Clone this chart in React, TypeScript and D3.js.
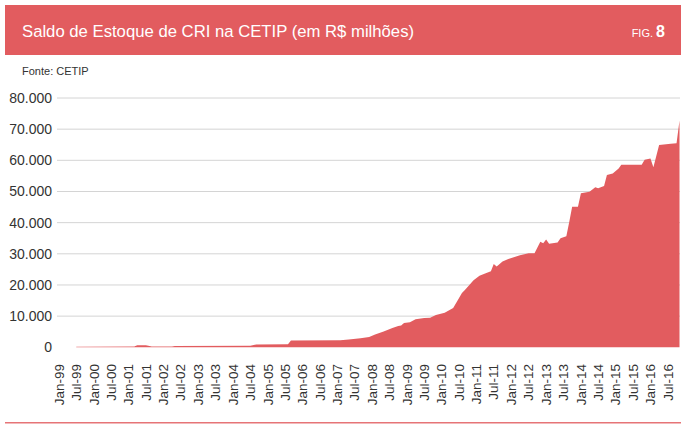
import React, { useRef, useEffect } from "react";
import * as d3 from "d3";

// estoque de CRI (R$ milhões)
const months = [
  "1999-07", "2001-03", "2001-04", "2001-07", "2001-09", "2002-04", "2002-05",
  "2004-07", "2004-09", "2005-08", "2005-09", "2007-02", "2007-05", "2007-09",
  "2007-12", "2008-02", "2008-05", "2008-08", "2008-10", "2008-11", "2008-12",
  "2009-02", "2009-04", "2009-07", "2009-09", "2009-11", "2010-02", "2010-05",
  "2010-06", "2010-08", "2010-09", "2010-12", "2011-02", "2011-04", "2011-06",
  "2011-07", "2011-08", "2011-10", "2011-12", "2012-04", "2012-07", "2012-09",
  "2012-11", "2012-12", "2013-01", "2013-02", "2013-05", "2013-06", "2013-08",
  "2013-09", "2013-10", "2013-12", "2014-01", "2014-04", "2014-06", "2014-07",
  "2014-09", "2014-10", "2014-12", "2015-02", "2015-03", "2015-10", "2015-11",
  "2016-01", "2016-02", "2016-04", "2016-08", "2016-10", "2016-11"
];
const stock = [
  200, 250, 650, 650, 250, 250, 450,
  500, 900, 1000, 2200, 2300, 2500, 2900,
  3300, 4100, 5100, 6200, 6800, 7000, 7800,
  8000, 9000, 9400, 9500, 10400, 11100, 12600,
  14200, 17400, 18400, 21500, 23000, 23700, 24400,
  26700, 25900, 27500, 28300, 29500, 30200, 30200,
  33900, 33400, 34600, 33200, 33600, 35000, 35600,
  40300, 45100, 45100, 49400, 49900, 51400, 51000,
  51800, 55300, 55800, 57400, 58600, 58600, 60200,
  60600, 57800, 64900, 65300, 65500, 72800
];
const yTicks = [10000, 20000, 30000, 40000, 50000, 60000, 70000, 80000];
const yLabels = [0, ...yTicks];
const tickLabels = [
  "Jan-99", "Jul-99", "Jan-00", "Jul-00", "Jan-01", "Jul-01", "Jan-02", "Jul-02",
  "Jan-03", "Jul-03", "Jan-04", "Jul-04", "Jan-05", "Jul-05", "Jan-06", "Jul-06",
  "Jan-07", "Jul-07", "Jan-08", "Jul-08", "Jan-09", "Jul-09", "Jan-10", "Jul-10",
  "Jan-11", "Jul-11", "Jan-12", "Jul-12", "Jan-13", "Jul-13", "Jan-14", "Jul-14",
  "Jan-15", "Jul-15", "Jan-16", "Jul-16"
];

const RED = "#e25c5f";
const FONT = "'Liberation Sans', Arial, sans-serif";

const App = () => {
  const svgRef = useRef(null);

  useEffect(() => {
    const svg = d3.select(svgRef.current);
    svg.selectAll("*").remove();

    const width = 686;
    const height = 428;
    const plot = { left: 57, right: 680, top: 98, bottom: 347.3 };

    const parseMonth = d3.timeParse("%Y-%m");
    const parseTick = d3.timeParse("%b-%y");
    const data = months.map((m, i) => ({ date: parseMonth(m), value: stock[i] }));

    const x = d3.scaleTime()
      .domain([new Date(1999, 0, 1), new Date(2016, 10, 1)])
      .range([59, 679.5]);
    const y = d3.scaleLinear().domain([0, 80000]).range([plot.bottom, plot.top]);

    const fmt = d3.formatLocale({ decimal: ",", thousands: ".", grouping: [3], currency: ["R$", ""] }).format(",");

    svg.attr("width", width).attr("height", height)
      .style("font-family", FONT);

    // header
    svg.append("rect")
      .attr("x", 5).attr("y", 5).attr("width", 676).attr("height", 50)
      .attr("fill", RED);
    svg.append("text")
      .attr("x", 22).attr("y", 37)
      .attr("fill", "#fff")
      .style("font-size", "16.7px")
      .text("Saldo de Estoque de CRI na CETIP (em R$ milhões)");
    const fig = svg.append("text")
      .attr("x", 665).attr("y", 37)
      .attr("text-anchor", "end")
      .attr("fill", "#fff");
    fig.append("tspan").style("font-size", "11px").text("FIG. ");
    fig.append("tspan").style("font-size", "16px").style("font-weight", "bold").text("8");

    svg.append("text")
      .attr("x", 22).attr("y", 75)
      .attr("fill", "#333")
      .style("font-size", "11px")
      .text("Fonte: CETIP");

    // grid
    svg.append("g")
      .selectAll("line")
      .data(yTicks)
      .enter()
      .append("line")
      .attr("x1", plot.left).attr("x2", plot.right)
      .attr("y1", d => y(d)).attr("y2", d => y(d))
      .attr("stroke", "#d4d4d4")
      .attr("stroke-width", 1);

    svg.append("g")
      .selectAll("text")
      .data(yLabels)
      .enter()
      .append("text")
      .attr("x", 52)
      .attr("y", d => y(d))
      .attr("dy", "0.35em")
      .attr("text-anchor", "end")
      .attr("fill", "#333")
      .style("font-size", "14px")
      .text(d => fmt(d));

    // area
    const area = d3.area()
      .x(d => x(d.date))
      .y0(y(0))
      .y1(d => y(d.value));

    svg.append("path")
      .datum(data)
      .attr("d", area)
      .attr("fill", RED);

    // x labels
    svg.append("g")
      .selectAll("text")
      .data(tickLabels)
      .enter()
      .append("text")
      .attr("transform", d => `translate(${x(parseTick(d))},364) rotate(-90)`)
      .attr("dy", "0.35em")
      .attr("text-anchor", "end")
      .attr("fill", "#333")
      .style("font-size", "13.5px")
      .text(d => d);

    // bottom rule
    svg.append("rect")
      .attr("x", 5).attr("y", 422)
      .attr("width", 676).attr("height", 1.5)
      .attr("fill", RED)
      .attr("opacity", 0.85);
  }, []);

  return (
    <div style={{ position: "absolute", left: 0, top: 0 }}>
      <svg ref={svgRef}></svg>
    </div>
  );
};

export default App;
